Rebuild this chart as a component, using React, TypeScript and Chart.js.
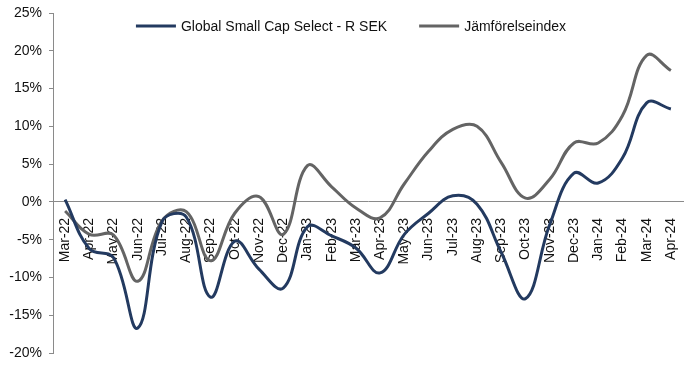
import React, { useEffect, useRef } from "react";
import { Chart, registerables } from "chart.js";

Chart.register(...registerables);

const categories = ["Mar-22","Apr-22","May-22","Jun-22","Jul-22","Aug-22","Sep-22","Oct-22","Nov-22","Dec-22","Jan-23","Feb-23","Mar-23","Apr-23","May-23","Jun-23","Jul-23","Aug-23","Sep-23","Oct-23","Nov-23","Dec-23","Jan-24","Feb-24","Mar-24","Apr-24"];
const fundName = "Global Small Cap Select - R SEK";
const benchName = "Jämförelseindex";
const fundValues = [0.3, -6.2, -7.4, -16.7, -2.6, -2.0, -12.6, -5.2, -8.9, -11.4, -3.3, -4.5, -6.1, -9.4, -4.3, -1.5, 0.8, -0.3, -6.7, -12.8, -3.0, 3.8, 2.5, 5.8, 13.1, 12.3];
const benchValues = [-1.2, -4.3, -4.4, -10.5, -2.5, -1.3, -7.8, -1.5, 0.7, -4.3, 4.8, 2.0, -0.8, -2.1, 2.4, 6.7, 9.6, 10.0, 5.2, 0.5, 3.0, 7.8, 7.8, 11.4, 19.4, 17.4];
const yTicksMin = -20;
const yTicksMax = 25;
const yTickStep = 5;

const FONT = "'Liberation Sans', Arial, sans-serif";
const FONT_SIZE = 14;
const FUND_COLOR = "#233A60";
const BENCH_COLOR = "#646464";
const AXIS_COLOR = "#8a8a8a";

const legendPlugin = {
  id: "customLegend",
  afterDraw(chart: any) {
    const ctx = chart.ctx;
    ctx.save();
    ctx.font = `${FONT_SIZE}px ${FONT}`;
    ctx.textBaseline = "middle";
    ctx.textAlign = "left";
    const boxW = 40;
    const gapBox = 5;
    const gapItem = 32;
    const items = chart.data.datasets.map((d: any) => ({
      label: d.label,
      color: d.borderColor,
      w: ctx.measureText(d.label).width,
    }));
    const total = items.reduce((s: number, it: any) => s + boxW + gapBox + it.w, 0) + gapItem * (items.length - 1);
    let x = 351 - total / 2;
    const y = 26;
    for (const it of items) {
      ctx.strokeStyle = it.color;
      ctx.lineWidth = 3;
      ctx.beginPath();
      ctx.moveTo(x, y);
      ctx.lineTo(x + boxW, y);
      ctx.stroke();
      ctx.fillStyle = "#111";
      ctx.fillText(it.label, x + boxW + gapBox, y + 1);
      x += boxW + gapBox + it.w + gapItem;
    }
    ctx.restore();
  },
};

export default function App() {
  const ref = useRef<HTMLCanvasElement>(null);
  useEffect(() => {
    document.body.style.margin = "0";
    const chart = new Chart(ref.current as HTMLCanvasElement, {
      type: "line",
      data: {
        labels: categories,
        datasets: [
          {
            label: fundName,
            data: fundValues,
            borderColor: FUND_COLOR,
            backgroundColor: FUND_COLOR,
            borderWidth: 3,
            pointRadius: 0,
            tension: 0.4,
            fill: false,
          },
          {
            label: benchName,
            data: benchValues,
            borderColor: BENCH_COLOR,
            backgroundColor: BENCH_COLOR,
            borderWidth: 3,
            pointRadius: 0,
            tension: 0.4,
            fill: false,
          },
        ],
      },
      options: {
        animation: false,
        responsive: false,
        layout: { padding: { left: 0, right: 2, top: 13, bottom: 19 } },
        plugins: {
          legend: { display: false },
          tooltip: { enabled: false },
        },
        scales: {
          x: {
            position: { y: 0 } as any,
            offset: true,
            grid: { display: false },
            border: { display: true, color: AXIS_COLOR, width: 1 },
            ticks: {
              autoSkip: false,
              minRotation: 90,
              maxRotation: 90,
              padding: 8,
              color: "#111",
              font: { family: FONT, size: FONT_SIZE },
            },
            afterFit: (scale: any) => {
              scale.height = 0;
              scale.paddingLeft = 0;
              scale.paddingRight = 0;
            },
          },
          y: {
            min: yTicksMin,
            max: yTicksMax,
            grid: {
              drawOnChartArea: false,
              drawTicks: true,
              tickLength: 4,
              color: AXIS_COLOR,
            },
            border: { display: true, color: AXIS_COLOR, width: 1 },
            ticks: {
              stepSize: yTickStep,
              padding: 7,
              color: "#111",
              font: { family: FONT, size: FONT_SIZE },
              callback: (v: any) => `${v}%`,
            },
            afterFit: (scale: any) => {
              scale.width = 53;
              scale.paddingTop = 0;
              scale.paddingBottom = 0;
            },
          },
        },
      },
      plugins: [legendPlugin],
    });
    return () => chart.destroy();
  }, []);
  return (
    <div style={{ width: 685, height: 372, background: "#fff" }}>
      <canvas ref={ref} width={685} height={372} style={{ display: "block" }} />
    </div>
  );
}
